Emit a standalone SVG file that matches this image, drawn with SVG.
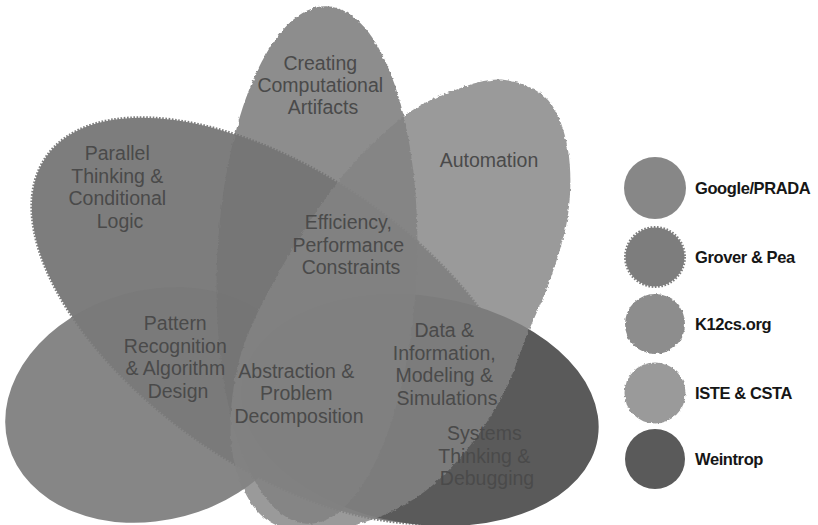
<svg xmlns="http://www.w3.org/2000/svg" width="818" height="525" viewBox="0 0 818 525">
  <defs>
    <style>
      .op90 { opacity: 0.9; }
      .op82 { opacity: 0.82; }
      .weintrop { fill: #5a5a5a; }
      .google { fill: #7a7a7a; }
      .grover { fill: #707070; stroke: #707070; stroke-width: 3; stroke-dasharray: 1.6 1.6; }
      .k12 { fill: #747474; }
      .iste { fill: #848484; }
      .lbl { font-family: "Liberation Sans", Arial, Helvetica, sans-serif; font-size: 19.5px; fill: #4a4a4a; text-anchor: middle; }
      .key { font-family: "Liberation Sans", Arial, Helvetica, sans-serif; font-size: 16.5px; font-weight: bold; fill: #161616; letter-spacing: -0.4px; }
    </style>
    <!-- ragged outline for the hand-cut shapes -->
    <filter id="rough" x="-5%" y="-5%" width="110%" height="110%">
      <feTurbulence type="fractalNoise" baseFrequency="0.3" numOctaves="2" seed="4" result="noise"/>
      <feDisplacementMap in="SourceGraphic" in2="noise" scale="3.5" xChannelSelector="R" yChannelSelector="G"/>
    </filter>
  </defs>

  <rect width="818" height="525" fill="#ffffff"/>

  <!-- overlapping framework regions, bottom to top -->
  <g id="set-grover-pea" class="op90">
    <ellipse class="grover" cx="281.5" cy="320.6" rx="286.6" ry="146.2" transform="rotate(34.8 281.5 320.6)"/>
  </g>
  <g id="set-google-prada" class="op90">
    <ellipse class="google" cx="155" cy="405" rx="152" ry="115" transform="rotate(-15 155 405)"/>
  </g>
  <g id="set-weintrop">
    <ellipse class="weintrop" cx="420" cy="410" rx="180" ry="114" transform="rotate(9 420 410)"/>
  </g>
  <g id="set-k12cs" class="op82" filter="url(#rough)">
    <ellipse class="k12" cx="317" cy="265" rx="100" ry="259" transform="rotate(2.2 317 265)"/>
  </g>
  <g id="set-iste-csta" class="op82" filter="url(#rough)">
    <path class="iste" d="M505 80 C520 81.83 537.5 88.33 548 100 C558.5 111.67 564.67 130.83 568 150 C571.33 169.17 571 193.33 568 215 C565 236.67 556.83 260 550 280 C543.17 300 534.83 315.83 527 335 C519.17 354.17 513.33 375.5 503 395 C492.67 414.5 478.83 435.33 465 452 C451.17 468.67 436.67 483.33 420 495 C403.33 506.67 384.17 515.83 365 522 C345.83 528.17 322.83 533.67 305 532 C287.17 530.33 270.17 525.67 258 512 C245.83 498.33 235.33 474.5 232 450 C228.67 425.5 231.17 392.83 238 365 C244.83 337.17 256.5 313.33 273 283 C289.5 252.67 315.33 210.67 337 183 C358.67 155.33 382.83 132.67 403 117 C423.17 101.33 441 95.17 458 89 C475 82.83 490 78.17 505 80 Z"/>
  </g>

  <!-- concept labels -->
  <g id="labels">
    <text id="lbl-artifacts" class="lbl">
      <tspan x="323" y="70">Creating</tspan>
      <tspan x="323" y="92">Computational</tspan>
      <tspan x="323" y="114">Artifacts</tspan>
    </text>
    <text id="lbl-automation" class="lbl">
      <tspan x="489" y="167">Automation</tspan>
    </text>
    <text id="lbl-parallel" class="lbl">
      <tspan x="120" y="160">Parallel</tspan>
      <tspan x="120" y="182.5">Thinking &amp;</tspan>
      <tspan x="120" y="205">Conditional</tspan>
      <tspan x="120" y="227.5">Logic</tspan>
    </text>
    <text id="lbl-efficiency" class="lbl">
      <tspan x="351" y="229">Efficiency,</tspan>
      <tspan x="351" y="251.5">Performance</tspan>
      <tspan x="351" y="274">Constraints</tspan>
    </text>
    <text id="lbl-pattern" class="lbl">
      <tspan x="178" y="330">Pattern</tspan>
      <tspan x="178" y="352.5">Recognition</tspan>
      <tspan x="178" y="375">&amp; Algorithm</tspan>
      <tspan x="178" y="397.5">Design</tspan>
    </text>
    <text id="lbl-abstraction" class="lbl">
      <tspan x="299" y="377.5">Abstraction &amp;</tspan>
      <tspan x="299" y="400">Problem</tspan>
      <tspan x="299" y="422.5">Decomposition</tspan>
    </text>
    <text id="lbl-data" class="lbl">
      <tspan x="447" y="337">Data &amp;</tspan>
      <tspan x="447" y="359.5">Information,</tspan>
      <tspan x="447" y="382">Modeling &amp;</tspan>
      <tspan x="447" y="404.5">Simulations</tspan>
    </text>
    <text id="lbl-systems" class="lbl">
      <tspan x="487" y="440">Systems</tspan>
      <tspan x="487" y="462.5">Thinking &amp;</tspan>
      <tspan x="487" y="485">Debugging</tspan>
    </text>
  </g>

  <!-- key -->
  <g id="legend">
    <g id="key-google-prada">
      <circle class="google op90" cx="655" cy="188" r="31"/>
      <text class="key" x="695" y="194">Google/PRADA</text>
    </g>
    <g id="key-grover-pea">
      <g class="op90"><circle class="grover" cx="655" cy="257" r="29.5"/></g>
      <text class="key" x="695" y="263">Grover &amp; Pea</text>
    </g>
    <g id="key-k12cs">
      <g class="op82" filter="url(#rough)"><circle class="k12" cx="655" cy="324" r="30"/></g>
      <text class="key" x="695" y="330">K12cs.org</text>
    </g>
    <g id="key-iste-csta">
      <g class="op82" filter="url(#rough)"><circle class="iste" cx="655" cy="393" r="30.5"/></g>
      <text class="key" x="695" y="399">ISTE &amp; CSTA</text>
    </g>
    <g id="key-weintrop">
      <circle class="weintrop" cx="655" cy="459" r="30"/>
      <text class="key" x="695" y="465">Weintrop</text>
    </g>
  </g>
</svg>
